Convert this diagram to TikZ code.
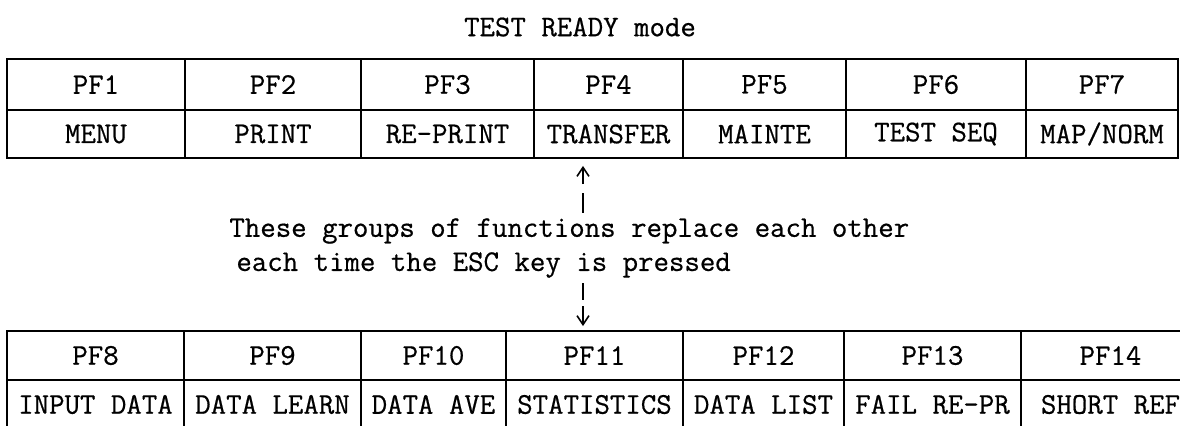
\documentclass[tikz,border=0pt]{standalone}
\usepackage{fontspec}
\setmonofont[FakeBold=0.6]{Latin Modern Mono}
\usetikzlibrary{arrows.meta}
\begin{document}
\begin{tikzpicture}[x=0.5pt,y=-0.5pt,
  every node/.style={font=\fontsize{15}{17}\selectfont\ttfamily},
  cellbox/.style={draw,line width=0.9pt,inner sep=0pt,anchor=center},
  esc/.style={line width=0.8pt,-{Straight Barb[length=4.5pt,width=6pt]}},
  dashseg/.style={line width=0.8pt}]
\useasboundingbox (0,0) rectangle (1180,425);
\clip (0,0) rectangle (1180,425);
\newcommand\mycell[6]{%
  \pgfmathsetmacro\cw{(#4-#2)*0.5}%
  \pgfmathsetmacro\ch{(#5-#3)*0.5}%
  \node[cellbox,minimum width=\cw pt,minimum height=\ch pt] (#1) at ({(#2+#4)/2},{(#3+#5)/2}) {#6};}
% title
\node (title) at (580,27) {TEST READY mode};
% top table
\mycell{t1}{7}{59}{185}{110}{PF1}
\mycell{t2}{185}{59}{361}{110}{PF2}
\mycell{t3}{361}{59}{534}{110}{PF3}
\mycell{t4}{534}{59}{683}{110}{PF4}
\mycell{t5}{683}{59}{846}{110}{PF5}
\mycell{t6}{846}{59}{1026}{110}{PF6}
\mycell{t7}{1026}{59}{1178}{110}{PF7}
\mycell{u1}{7}{110}{185}{158}{MENU}
\mycell{u2}{185}{110}{361}{158}{PRINT}
\mycell{u3}{361}{110}{534}{158}{RE-PRINT}
\mycell{u4}{534}{110}{683}{158}{TRANSFER}
\mycell{u5}{683}{110}{846}{158}{MAINTE}
\mycell{u6}{846}{110}{1026}{158}{TEST SEQ}
\mycell{u7}{1026}{110}{1178}{158}{MAP/NORM}
% bottom table
\mycell{p8}{7}{331}{184}{380}{PF8}
\mycell{p9}{184}{331}{361}{380}{PF9}
\mycell{p10}{361}{331}{506}{380}{PF10}
\mycell{p11}{506}{331}{683}{380}{PF11}
\mycell{p12}{683}{331}{844}{380}{PF12}
\mycell{p13}{844}{331}{1021}{380}{PF13}
\mycell{p14}{1021}{331}{1200}{380}{PF14}
\mycell{q8}{7}{380}{184}{429}{INPUT DATA}
\mycell{q9}{184}{380}{361}{429}{DATA LEARN}
\mycell{q10}{361}{380}{506}{429}{DATA AVE}
\mycell{q11}{506}{380}{683}{429}{STATISTICS}
\mycell{q12}{683}{380}{844}{429}{DATA LIST}
\mycell{q13}{844}{380}{1021}{429}{FAIL RE-PR}
\mycell{q14}{1021}{380}{1200}{429}{SHORT REF}
% note
\node[anchor=west,inner sep=0pt] (note1) at (229,231) {These groups of functions replace each other};
\node[anchor=west,inner sep=0pt] (note2) at (236,265) {each time the ESC key is pressed};
% arrows
\coordinate (ua) at (583,184);
\coordinate (ub) at (583,193);
\coordinate (uc) at (583,213);
\coordinate (da) at (583,283);
\coordinate (db) at (583,300);
\coordinate (dc) at (583,306);
\draw[esc,shorten >=3.5pt] (ua) -- (ua |- u4.south);
\draw[dashseg] (ub) -- (uc);
\draw[dashseg] (da) -- (db);
\draw[esc,shorten >=2pt] (dc) -- (dc |- p11.north);
\end{tikzpicture}
\end{document}
